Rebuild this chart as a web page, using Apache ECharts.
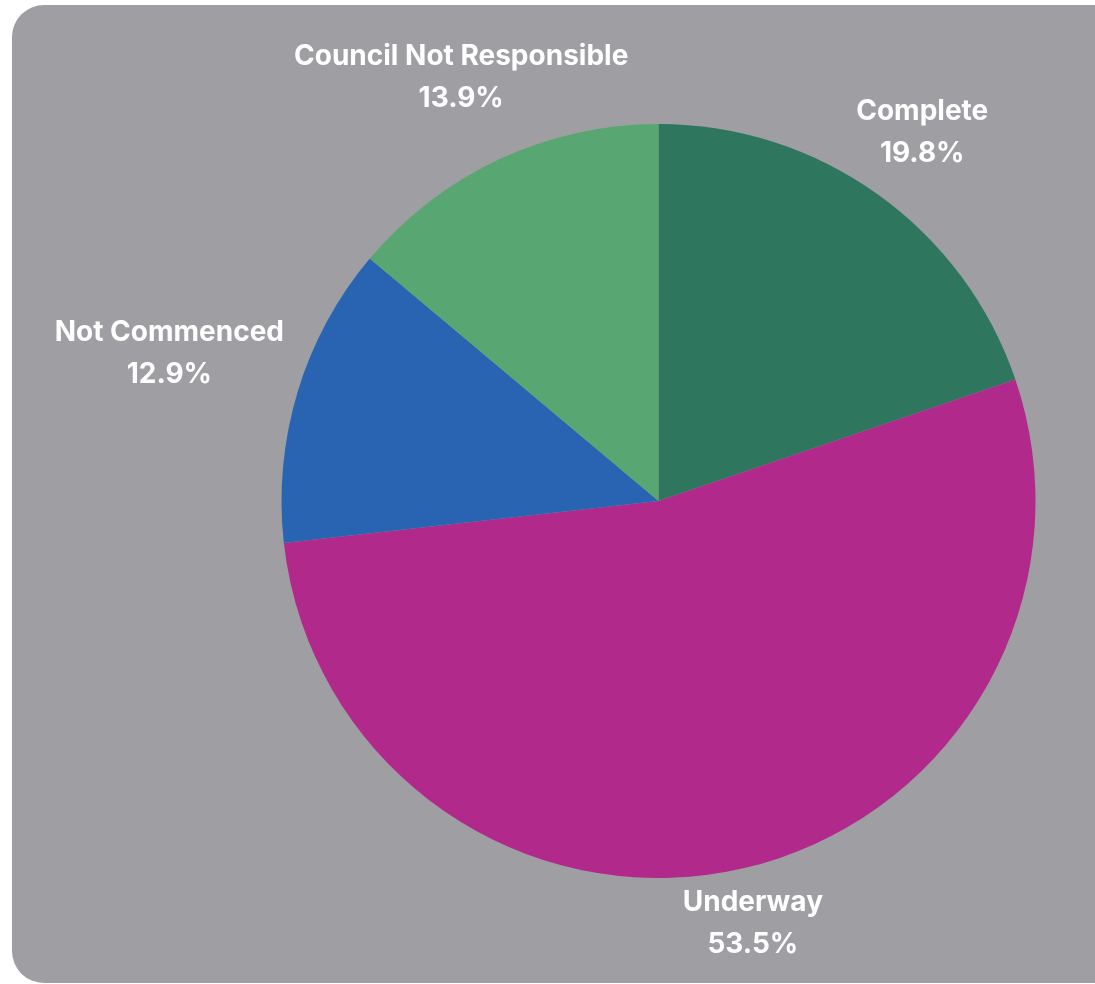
<!DOCTYPE html>
<html>
<head>
<meta charset="utf-8">
<style>
  html, body { margin: 0; padding: 0; background: #ffffff; }
  #chart { width: 1095px; height: 984px; }
</style>
<script src="https://cdn.jsdelivr.net/npm/echarts@6/dist/echarts.min.js"></script>
</head>
<body>
<div id="chart"></div>
<script>
// ---- data ----
const categories = ['Complete', 'Underway', 'Not Commenced', 'Council Not Responsible'];
const values = [19.8, 53.5, 12.9, 13.9];

// ---- styling / layout ----
const sliceColors = ['#2e765e', '#b2298c', '#2964b3', '#58a773'];
const CENTER = [658.5, 501];
const RADIUS = 377;
const labelDistance = [453, 433, 511, 467]; // distance of label centre from pie centre

const total = values.reduce((a, b) => a + b, 0);
const midAngles = [];
let cum = 0;
values.forEach(v => { midAngles.push((cum + v / 2) / total * Math.PI * 2); cum += v; });

const chart = echarts.init(document.getElementById('chart'), null, { renderer: 'canvas' });
chart.setOption({
  animation: false,
  backgroundColor: '#ffffff',
  graphic: [{
    type: 'rect',
    z: -10,
    shape: { x: 12, y: 5, width: 1150, height: 978, r: 32 },
    style: { fill: '#9f9ea3' },
    silent: true
  }],
  series: [{
    type: 'pie',
    center: CENTER,
    radius: RADIUS,
    startAngle: 90,
    clockwise: true,
    silent: true,
    avoidLabelOverlap: false,
    data: categories.map((c, i) => ({ name: c, value: values[i], itemStyle: { color: sliceColors[i] } })),
    itemStyle: { borderWidth: 0 },
    label: {
      show: true,
      position: 'outside',
      formatter: p => p.name + '\n' + p.value.toFixed(1) + '%',
      color: '#ffffff',
      fontFamily: 'Inter',
      fontWeight: 700,
      fontSize: 28,
      lineHeight: 42,
      align: 'center'
    },
    labelLine: { show: false },
    labelLayout: p => {
      const a = midAngles[p.dataIndex];
      const d = labelDistance[p.dataIndex];
      return {
        x: CENTER[0] + d * Math.sin(a),
        y: CENTER[1] - d * Math.cos(a),
        align: 'center',
        verticalAlign: 'middle'
      };
    }
  }]
});
</script>
</body>
</html>
